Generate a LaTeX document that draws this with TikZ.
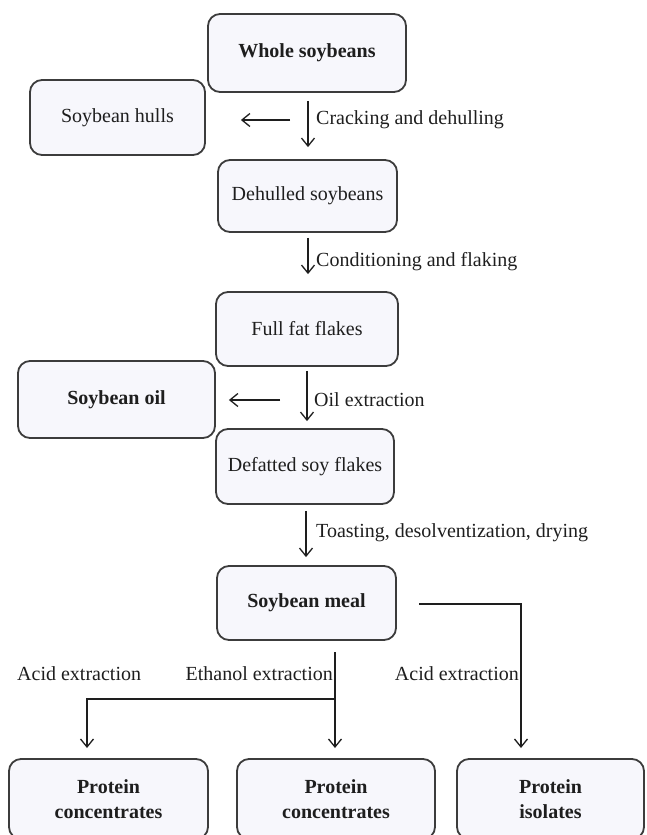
\documentclass[tikz,border=0pt]{standalone}
\usepackage{fontspec}
\setmainfont{Liberation Serif}
\usetikzlibrary{arrows.meta}
\definecolor{boxfill}{HTML}{F7F7FC}
\definecolor{boxline}{HTML}{3C3C3C}
\definecolor{ink}{HTML}{1E1E1E}
\begin{document}
\begin{tikzpicture}[x=1pt,y=-1pt,
  box/.style={draw=boxline, line width=1.8pt, fill=boxfill, rounded corners=12pt,
    align=center, inner sep=0pt, font=\fontsize{20}{25}\selectfont, text=ink},
  arr/.style={draw=ink, line width=1.3pt, -{Straight Barb[length=8pt,width=13pt]}},
  lbl/.style={font=\fontsize{20}{24}\selectfont, text=ink, inner sep=0pt}]
\useasboundingbox (0,0) rectangle (646,835);
\clip (0,0) rectangle (646,835);

% boxes
\node[box, minimum width=198pt, minimum height=78pt] (whole) at (307,53) {\textbf{Whole soybeans}};
\node[box, minimum width=175pt, minimum height=75pt] (hulls) at (117.5,117.5) {Soybean hulls};
\node[box, minimum width=179pt, minimum height=72pt] (dehulled) at (307.5,196) {Dehulled soybeans};
\node[box, minimum width=182pt, minimum height=74pt] (fullfat) at (307,329) {Full fat flakes};
\node[box, minimum width=197pt, minimum height=77pt] (oil) at (116.5,399.5) {\textbf{Soybean oil}};
\node[box, minimum width=178pt, minimum height=75pt] (defatted) at (305,466.5) {Defatted soy flakes};
\node[box, minimum width=179pt, minimum height=74pt] (meal) at (306.5,603) {\textbf{Soybean meal}};
\node[box, minimum width=199pt, minimum height=80pt] (pc1) at (108.5,799) {\textbf{Protein}\\\textbf{concentrates}};
\node[box, minimum width=198pt, minimum height=80pt] (pc2) at (336,799) {\textbf{Protein}\\\textbf{concentrates}};
\node[box, minimum width=187pt, minimum height=80pt] (pi) at (550.5,799) {\textbf{Protein}\\\textbf{isolates}};

% main vertical arrows
\draw[arr, shorten <=8pt, shorten >=12pt] (whole.south -| 308,0) -- (dehulled.north -| 308,0);
\draw[arr, shorten <=5pt, shorten >=17pt] (dehulled.south -| 308,0) -- (fullfat.north -| 308,0);
\draw[arr, shorten <=4pt, shorten >=7pt] (fullfat.south -| 307,0) -- (defatted.north -| 307,0);
\draw[arr, shorten <=6pt, shorten >=8pt] (defatted.south -| 306,0) -- (meal.north -| 306,0);

% side arrows
\coordinate (h1) at (290,120);
\draw[arr, shorten >=35pt] (h1) -- (hulls.east |- h1);
\coordinate (o1) at (280,400);
\draw[arr, shorten >=13pt] (o1) -- (oil.east |- o1);

% labels
\node[lbl, anchor=west] (l1) at (316,120) {Cracking and dehulling};
\node[lbl, anchor=west] (l2) at (316,262) {Conditioning and flaking};
\node[lbl, anchor=west] (l3) at (314,400) {Oil extraction};
\node[lbl, anchor=west] (l4) at (316,533) {Toasting, desolventization, drying};
\node[lbl, anchor=west] (l5) at (17,674) {Acid extraction};
\node[lbl, anchor=east] (l6) at (333,674) {Ethanol extraction};
\node[lbl, anchor=east] (l7) at (519,674) {Acid extraction};

% bottom split
\coordinate (s0) at (335,652);
\coordinate (s1) at (335,699);
\coordinate (a1) at (87,748);
\coordinate (a2) at (335,748);
\coordinate (r0) at (419,604);
\coordinate (a3) at (521,748);
\draw[arr] (s0) -- (a2);
\draw[arr] (s1) -| (a1);
\draw[arr] (r0) -| (a3);
\end{tikzpicture}
\end{document}
